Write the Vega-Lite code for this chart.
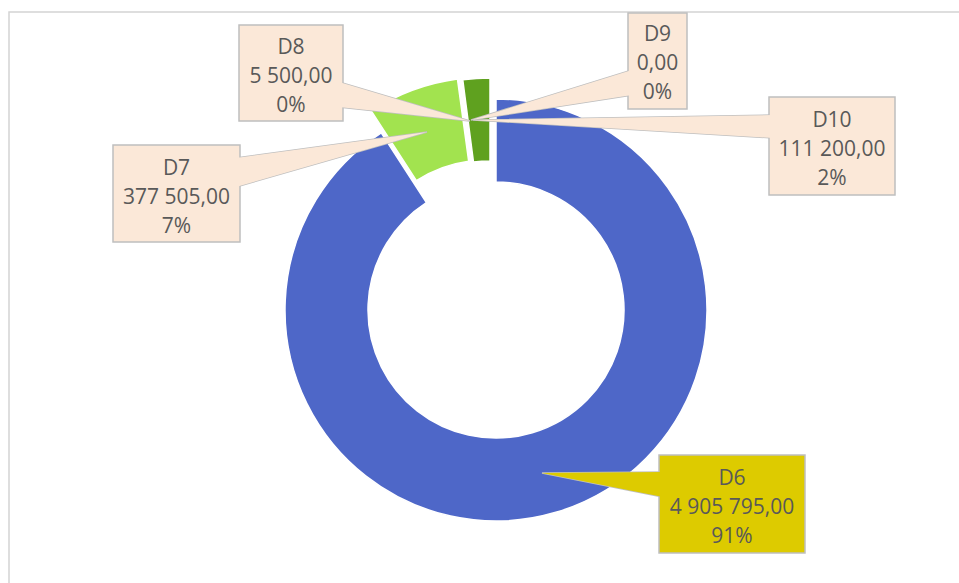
{
  "$schema": "https://vega.github.io/schema/vega-lite/v6.json",
  "width": 952,
  "height": 573,
  "autosize": {"type": "none"},
  "padding": {"left": 9, "top": 12, "right": -2, "bottom": -2},
  "background": "#ffffff",
  "config": {
    "view": {"stroke": "#d4d4d4", "strokeWidth": 1.5},
    "locale": {"number": {"decimal": ",", "thousands": " ", "grouping": [3], "currency": ["", ""]}},
    "text": {"font": "Open Sans", "fontSize": 21, "color": "#595959"}
  },
  "datasets": {
    "slices": [
      {"name": "D6", "value": 4905795, "share": 0.91},
      {"name": "D7", "value": 377505, "share": 0.07},
      {"name": "D8", "value": 5500, "share": 0},
      {"name": "D9", "value": 0, "share": 0},
      {"name": "D10", "value": 111200, "share": 0.02}
    ],
    "callouts": [
      {"name": "D6", "x0": 163, "x1": 309, "y0": 145, "y1": 243, "cx": 236, "cy": 198},
      {"name": "D7", "x0": -383, "x1": -256, "y0": -165, "y1": -68, "cx": -319.5, "cy": -112},
      {"name": "D8", "x0": -257, "x1": -153, "y0": -285, "y1": -189, "cx": -205, "cy": -233},
      {"name": "D9", "x0": 132, "x1": 191, "y0": -297, "y1": -201, "cx": 161.5, "cy": -246},
      {"name": "D10", "x0": 273, "x1": 399, "y0": -213, "y1": -115, "cx": 336, "cy": -160}
    ],
    "pointers": [
      {"name": "D6", "i": 1, "x": 167, "y": 162},
      {"name": "D6", "i": 2, "x": 46, "y": 163},
      {"name": "D6", "i": 3, "x": 167, "y": 187},
      {"name": "D7", "i": 1, "x": -260, "y": -152},
      {"name": "D7", "i": 2, "x": -69, "y": -178},
      {"name": "D7", "i": 3, "x": -260, "y": -123},
      {"name": "D8", "i": 1, "x": -157, "y": -228},
      {"name": "D8", "i": 2, "x": -26, "y": -189},
      {"name": "D8", "i": 3, "x": -157, "y": -203},
      {"name": "D9", "i": 1, "x": 136, "y": -240},
      {"name": "D9", "i": 2, "x": -25, "y": -190},
      {"name": "D9", "i": 3, "x": 136, "y": -215},
      {"name": "D10", "i": 1, "x": 277, "y": -195},
      {"name": "D10", "i": 2, "x": -23, "y": -190},
      {"name": "D10", "i": 3, "x": 277, "y": -172}
    ]
  },
  "layer": [
    {
      "data": {"name": "slices"},
      "transform": [
        {"stack": "value", "groupby": [], "as": ["v0", "v1"]},
        {"filter": "datum.name === 'D6'"}
      ],
      "mark": {"type": "arc", "outerRadius": 211, "innerRadius": 128, "stroke": "#ffffff", "strokeWidth": 1.5},
      "encoding": {
        "x": {"datum": 0, "type": "quantitative", "scale": {"domain": [-487, 465], "nice": false, "zero": false}, "axis": null},
        "y": {"datum": 0, "type": "quantitative", "scale": {"domain": [-298, 275], "reverse": true, "nice": false, "zero": false}, "axis": null},
        "theta": {"field": "v0", "type": "quantitative", "scale": {"domain": [0, 5400000]}},
        "theta2": {"field": "v1"},
        "color": {"field": "name", "type": "nominal", "scale": {"domain": ["D6", "D7", "D8", "D9", "D10"], "range": ["#4e67c8", "#a2e34f", "#7fc43a", "#8bc34a", "#5fa11f"]}, "legend": null}
      }
    },
    {
      "data": {"name": "slices"},
      "transform": [
        {"stack": "value", "groupby": [], "as": ["v0", "v1"]},
        {"filter": "datum.name === 'D7'"}
      ],
      "mark": {"type": "arc", "outerRadius": 211, "innerRadius": 128, "stroke": "#ffffff", "strokeWidth": 1.5, "xOffset": -10, "yOffset": -22},
      "encoding": {
        "x": {"datum": 0, "type": "quantitative", "scale": {"domain": [-487, 465], "nice": false, "zero": false}, "axis": null},
        "y": {"datum": 0, "type": "quantitative", "scale": {"domain": [-298, 275], "reverse": true, "nice": false, "zero": false}, "axis": null},
        "theta": {"field": "v0", "type": "quantitative", "scale": {"domain": [0, 5400000]}},
        "theta2": {"field": "v1"},
        "color": {"field": "name", "type": "nominal", "legend": null}
      }
    },
    {
      "data": {"name": "slices"},
      "transform": [
        {"stack": "value", "groupby": [], "as": ["v0", "v1"]},
        {"filter": "datum.name === 'D8'"}
      ],
      "mark": {"type": "arc", "outerRadius": 211, "innerRadius": 128, "stroke": "#ffffff", "strokeWidth": 1.5, "xOffset": -8, "yOffset": -22},
      "encoding": {
        "x": {"datum": 0, "type": "quantitative", "scale": {"domain": [-487, 465], "nice": false, "zero": false}, "axis": null},
        "y": {"datum": 0, "type": "quantitative", "scale": {"domain": [-298, 275], "reverse": true, "nice": false, "zero": false}, "axis": null},
        "theta": {"field": "v0", "type": "quantitative", "scale": {"domain": [0, 5400000]}},
        "theta2": {"field": "v1"},
        "color": {"field": "name", "type": "nominal", "legend": null}
      }
    },
    {
      "data": {"name": "slices"},
      "transform": [
        {"stack": "value", "groupby": [], "as": ["v0", "v1"]},
        {"filter": "datum.name === 'D10'"}
      ],
      "mark": {"type": "arc", "outerRadius": 211, "innerRadius": 128, "stroke": "#ffffff", "strokeWidth": 1.5, "xOffset": -6, "yOffset": -21},
      "encoding": {
        "x": {"datum": 0, "type": "quantitative", "scale": {"domain": [-487, 465], "nice": false, "zero": false}, "axis": null},
        "y": {"datum": 0, "type": "quantitative", "scale": {"domain": [-298, 275], "reverse": true, "nice": false, "zero": false}, "axis": null},
        "theta": {"field": "v0", "type": "quantitative", "scale": {"domain": [0, 5400000]}},
        "theta2": {"field": "v1"},
        "color": {"field": "name", "type": "nominal", "legend": null}
      }
    },
    {
      "data": {"name": "pointers"},
      "mark": {"type": "line", "interpolate": "linear-closed", "stroke": "#bfbfbf", "strokeWidth": 1.5, "strokeJoin": "miter"},
      "encoding": {
        "x": {"field": "x", "type": "quantitative", "scale": {"domain": [-487, 465], "nice": false, "zero": false}, "axis": null},
        "y": {"field": "y", "type": "quantitative", "scale": {"domain": [-298, 275], "reverse": true, "nice": false, "zero": false}, "axis": null},
        "detail": {"field": "name"},
        "order": {"field": "i", "type": "quantitative"},
        "fill": {"field": "name", "type": "nominal", "scale": {"domain": ["D6", "D7", "D8", "D9", "D10"], "range": ["#ddcb00", "#fbe8d8", "#fbe8d8", "#fbe8d8", "#fbe8d8"]}, "legend": null}
      }
    },
    {
      "data": {"name": "callouts"},
      "mark": {"type": "rect", "stroke": "#bfbfbf", "strokeWidth": 1.5},
      "encoding": {
        "x": {"field": "x0", "type": "quantitative", "scale": {"domain": [-487, 465], "nice": false, "zero": false}, "axis": null},
        "x2": {"field": "x1"},
        "y": {"field": "y0", "type": "quantitative", "scale": {"domain": [-298, 275], "reverse": true, "nice": false, "zero": false}, "axis": null},
        "y2": {"field": "y1"},
        "fill": {"field": "name", "type": "nominal", "legend": null}
      }
    },
    {
      "data": {"name": "pointers"},
      "mark": {"type": "line", "interpolate": "linear-closed", "strokeWidth": 0, "strokeOpacity": 0},
      "encoding": {
        "x": {"field": "x", "type": "quantitative", "scale": {"domain": [-487, 465], "nice": false, "zero": false}, "axis": null},
        "y": {"field": "y", "type": "quantitative", "scale": {"domain": [-298, 275], "reverse": true, "nice": false, "zero": false}, "axis": null},
        "detail": {"field": "name"},
        "order": {"field": "i", "type": "quantitative"},
        "fill": {"field": "name", "type": "nominal", "legend": null}
      }
    },
    {
      "data": {"name": "slices"},
      "transform": [{"lookup": "name", "from": {"data": {"name": "callouts"}, "key": "name", "fields": ["cx", "cy"]}}],
      "mark": {"type": "text", "baseline": "middle", "align": "center", "dy": -29},
      "encoding": {
        "x": {"field": "cx", "type": "quantitative", "scale": {"domain": [-487, 465], "nice": false, "zero": false}, "axis": null},
        "y": {"field": "cy", "type": "quantitative", "scale": {"domain": [-298, 275], "reverse": true, "nice": false, "zero": false}, "axis": null},
        "text": {"field": "name"}
      }
    },
    {
      "data": {"name": "slices"},
      "transform": [{"lookup": "name", "from": {"data": {"name": "callouts"}, "key": "name", "fields": ["cx", "cy"]}}],
      "mark": {"type": "text", "baseline": "middle", "align": "center"},
      "encoding": {
        "x": {"field": "cx", "type": "quantitative", "scale": {"domain": [-487, 465], "nice": false, "zero": false}, "axis": null},
        "y": {"field": "cy", "type": "quantitative", "scale": {"domain": [-298, 275], "reverse": true, "nice": false, "zero": false}, "axis": null},
        "text": {"field": "value", "type": "quantitative", "format": ",.2f"}
      }
    },
    {
      "data": {"name": "slices"},
      "transform": [{"lookup": "name", "from": {"data": {"name": "callouts"}, "key": "name", "fields": ["cx", "cy"]}}],
      "mark": {"type": "text", "baseline": "middle", "align": "center", "dy": 29},
      "encoding": {
        "x": {"field": "cx", "type": "quantitative", "scale": {"domain": [-487, 465], "nice": false, "zero": false}, "axis": null},
        "y": {"field": "cy", "type": "quantitative", "scale": {"domain": [-298, 275], "reverse": true, "nice": false, "zero": false}, "axis": null},
        "text": {"field": "share", "type": "quantitative", "format": ".0%"}
      }
    }
  ]
}
